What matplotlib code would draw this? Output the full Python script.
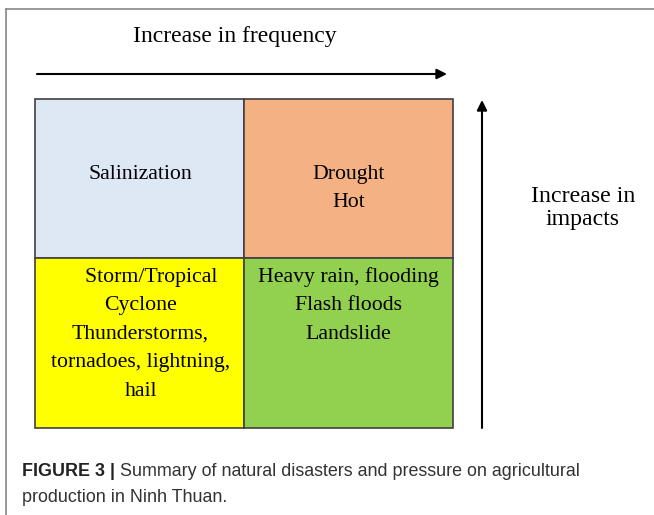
import matplotlib.pyplot as plt
from matplotlib.patches import Rectangle

# quadrant contents (top-left, top-right, bottom-left, bottom-right)
cell_texts = [
    ["Salinization"],
    ["Drought", "Hot"],
    ["    Storm/Tropical", "Cyclone", "Thunderstorms,", "tornadoes, lightning,", "hail"],
    ["Heavy rain, flooding", "Flash floods", "Landslide"],
]
cell_colors = ["#DEE8F4", "#F4B183", "#FFFF00", "#92D050"]
x_label = "Increase in frequency"
y_label = ["Increase in", "impacts"]
caption_bold = "FIGURE 3 |"
caption_rest = " Summary of natural disasters and pressure on agricultural"
caption_line2 = "production in Ninh Thuan."

# layout in pixels
col_edges = [35, 244, 453]
row_edges = [99, 258, 428]
first_baseline = [179, 282]
line_step = 28.4

fig = plt.figure(figsize=(6.54, 5.15), dpi=100)
ax = fig.add_axes([0, 0, 1, 1])
ax.set_xlim(0, 654)
ax.set_ylim(515, 0)
ax.axis("off")

serif = "Liberation Serif"
sans = "Liberation Sans"

# frame lines of the figure panel
ax.plot([6, 654], [9, 9], color="#888888", lw=1.2)
ax.plot([6, 6], [9, 515], color="#888888", lw=1.2)

# quadrants
for i, (lines, col) in enumerate(zip(cell_texts, cell_colors)):
    r, c = divmod(i, 2)
    x0, x1 = col_edges[c], col_edges[c + 1]
    y0, y1 = row_edges[r], row_edges[r + 1]
    ax.add_patch(Rectangle((x0, y0), x1 - x0, y1 - y0, facecolor=col,
                           edgecolor="#404040", lw=1.2))
    xc = (x0 + x1) / 2 + (1 if c == 0 else 0)
    for k, line in enumerate(lines):
        ax.text(xc, first_baseline[r] + k * line_step, line, ha="center",
                va="baseline", family=serif, fontsize=15.7)

# arrows
ax.annotate("", xy=(447, 74), xytext=(37, 74),
            arrowprops=dict(arrowstyle="-|>", color="black", lw=1.5,
                            mutation_scale=15, shrinkA=0, shrinkB=0))
ax.annotate("", xy=(482, 100), xytext=(482, 428),
            arrowprops=dict(arrowstyle="-|>", color="black", lw=1.5,
                            mutation_scale=15, shrinkA=0, shrinkB=0))

ax.text(235, 42, x_label, ha="center", va="baseline", family=serif, fontsize=17)
for k, line in enumerate(y_label):
    ax.text(583, 197 + k * 22, line, ha="center", va="center", family=serif,
            fontsize=17.2)

# caption
t = ax.text(22, 472, caption_bold, ha="left", va="center", family=sans,
            fontsize=12.9, weight="bold", color="#222222")
fig.canvas.draw()
bb = t.get_window_extent()
x_end = ax.transData.inverted().transform((bb.x1, bb.y0))[0]
ax.text(x_end, 472, caption_rest, ha="left", va="center", family=sans,
        fontsize=12.9, color="#333333")
ax.text(22, 498, caption_line2, ha="left", va="center", family=sans,
        fontsize=12.9, color="#333333")

fig.savefig("out.png", dpi=100)
